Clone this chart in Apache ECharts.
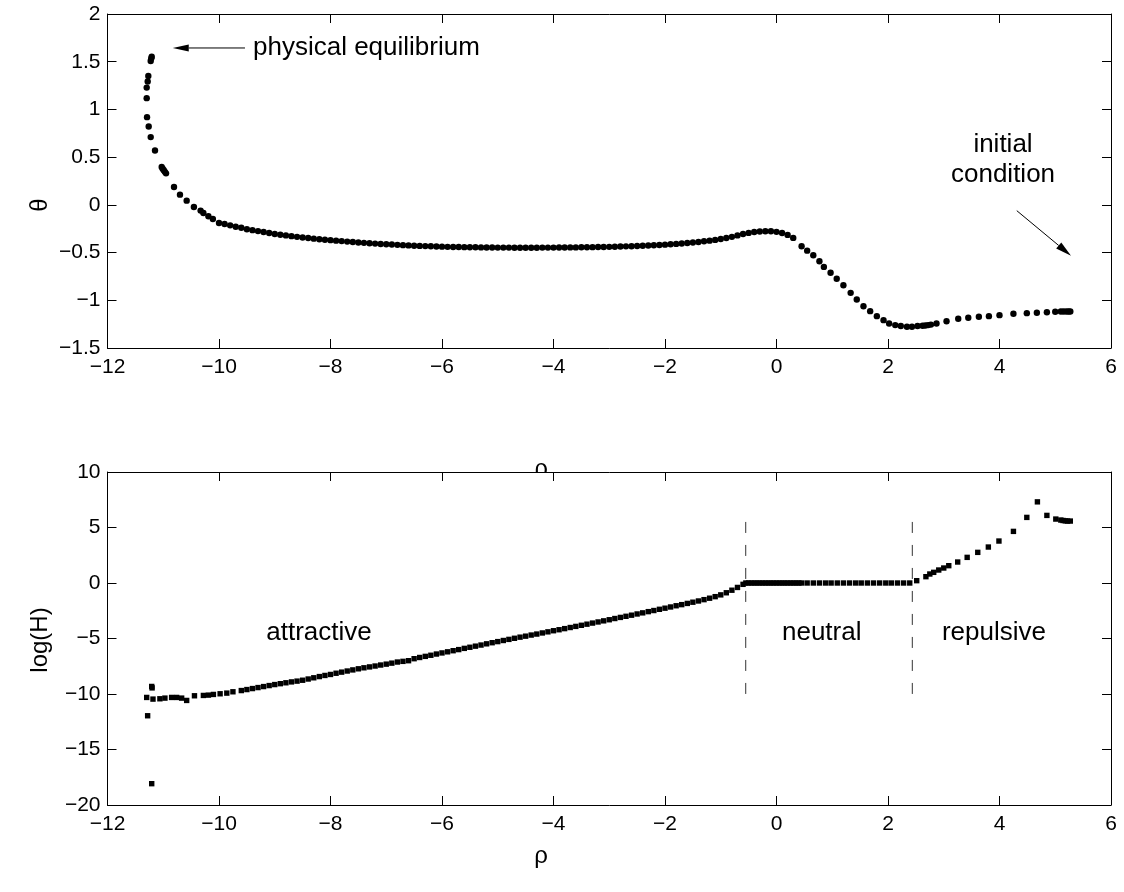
<!DOCTYPE html>
<html><head><meta charset="utf-8">
<script src="https://cdn.jsdelivr.net/npm/echarts@6/dist/echarts.min.js"></script>
<style>html,body{margin:0;padding:0;background:#fff}#c{width:1124px;height:892px}</style>
</head><body><div id="c"></div>
<script>
// ---------- top panel: theta vs rho ----------
const rhoTopHead = [-11.207,-11.215,-11.225,-11.268,-11.279,-11.297,-11.297,-11.291,-11.261,-11.225,-11.148,-11.028,-11.01,-10.99,-10.97,-10.95,-10.807,-10.70,-10.58,-10.45,-10.33,-10.28,-10.19,-10.11];
const thetaTopHead = [1.553,1.535,1.508,1.351,1.292,1.229,1.118,0.919,0.821,0.710,0.570,0.396,0.378,0.362,0.346,0.330,0.187,0.107,0.044,-0.022,-0.06,-0.085,-0.12,-0.148];
const rhoTopMid = [-10.0,-9.9,-9.8,-9.7,-9.6,-9.5,-9.4,-9.3,-9.2,-9.1,-9.0,-8.9,-8.8,-8.7,-8.6,-8.5,-8.4,-8.3,-8.2,-8.1,-8.0,-7.9,-7.8,-7.7,-7.6,-7.5,-7.4,-7.3,-7.2,-7.1,-7.0,-6.9,-6.8,-6.7,-6.6,-6.5,-6.4,-6.3,-6.2,-6.1,-6.0,-5.9,-5.8,-5.7,-5.6,-5.5,-5.4,-5.3,-5.2,-5.1,-5.0,-4.9,-4.8,-4.7,-4.6,-4.5,-4.4,-4.3,-4.2,-4.1,-4.0,-3.9,-3.8,-3.7,-3.6,-3.5,-3.4,-3.3,-3.2,-3.1,-3.0,-2.9,-2.8,-2.7,-2.6,-2.5,-2.4,-2.3,-2.2,-2.1,-2.0,-1.9,-1.8,-1.7,-1.6,-1.5,-1.4,-1.3,-1.2,-1.1,-1.0,-0.9,-0.8,-0.7,-0.6,-0.5,-0.4,-0.3,-0.2,-0.1,0.0,0.1,0.2];
const thetaTopMid = [-0.19,-0.20,-0.215,-0.23,-0.24,-0.255,-0.265,-0.275,-0.285,-0.295,-0.305,-0.313,-0.32,-0.328,-0.335,-0.342,-0.348,-0.354,-0.36,-0.365,-0.37,-0.375,-0.38,-0.385,-0.39,-0.394,-0.398,-0.402,-0.406,-0.41,-0.413,-0.416,-0.419,-0.422,-0.425,-0.428,-0.43,-0.432,-0.434,-0.436,-0.438,-0.44,-0.441,-0.442,-0.443,-0.444,-0.445,-0.446,-0.447,-0.447,-0.448,-0.448,-0.448,-0.449,-0.449,-0.449,-0.449,-0.449,-0.448,-0.448,-0.448,-0.447,-0.447,-0.446,-0.446,-0.445,-0.444,-0.443,-0.442,-0.441,-0.44,-0.439,-0.437,-0.435,-0.433,-0.431,-0.429,-0.426,-0.423,-0.42,-0.417,-0.413,-0.409,-0.405,-0.40,-0.395,-0.389,-0.382,-0.375,-0.367,-0.358,-0.348,-0.335,-0.32,-0.306,-0.294,-0.285,-0.279,-0.276,-0.277,-0.283,-0.295,-0.315];
const rhoTopTail = [0.30,0.45,0.55,0.66,0.77,0.85,0.97,1.08,1.20,1.33,1.44,1.56,1.68,1.80,1.92,2.02,2.13,2.23,2.34,2.43,2.53,2.62,2.67,2.72,2.77,2.87,3.05,3.26,3.44,3.63,3.81,4.00,4.25,4.49,4.67,4.85,5.00,5.10,5.15,5.20,5.24,5.27];
const thetaTopTail = [-0.346,-0.434,-0.48,-0.528,-0.591,-0.650,-0.712,-0.775,-0.842,-0.922,-0.992,-1.062,-1.114,-1.166,-1.208,-1.243,-1.26,-1.27,-1.277,-1.277,-1.27,-1.267,-1.264,-1.26,-1.255,-1.243,-1.219,-1.194,-1.183,-1.173,-1.166,-1.156,-1.141,-1.135,-1.131,-1.125,-1.12,-1.118,-1.118,-1.118,-1.117,-1.117];

// ---------- bottom panel: log(H) vs rho ----------
const rhoBotHead = [-11.297,-11.28,-11.207,-11.20,-11.207,-11.184,-11.06,-10.97,-10.85,-10.76,-10.67,-10.58,-10.44,-10.28,-10.19,-10.10,-9.98,-9.86,-9.75];
const logHBotHead = [-10.31,-11.96,-9.32,-9.45,-18.08,-10.46,-10.43,-10.37,-10.31,-10.31,-10.37,-10.58,-10.16,-10.13,-10.10,-10.04,-9.98,-9.92,-9.80];
const rhoBotAttr = [-9.6,-9.5,-9.4,-9.3,-9.2,-9.1,-9.0,-8.9,-8.8,-8.7,-8.6,-8.5,-8.4,-8.3,-8.2,-8.1,-8.0,-7.9,-7.8,-7.7,-7.6,-7.5,-7.4,-7.3,-7.2,-7.1,-7.0,-6.9,-6.8,-6.7,-6.6,-6.5,-6.4,-6.3,-6.2,-6.1,-6.0,-5.9,-5.8,-5.7,-5.6,-5.5,-5.4,-5.3,-5.2,-5.1,-5.0,-4.9,-4.8,-4.7,-4.6,-4.5,-4.4,-4.3,-4.2,-4.1,-4.0,-3.9,-3.8,-3.7,-3.6,-3.5,-3.4,-3.3,-3.2,-3.1,-3.0,-2.9,-2.8,-2.7,-2.6,-2.5,-2.4,-2.3,-2.2,-2.1,-2.0,-1.9,-1.8,-1.7,-1.6,-1.5,-1.4,-1.3,-1.2,-1.1,-1.0,-0.9,-0.8,-0.7,-0.6];
const logHBotAttr = [-9.69,-9.60,-9.51,-9.42,-9.33,-9.24,-9.15,-9.07,-8.99,-8.91,-8.84,-8.76,-8.65,-8.54,-8.43,-8.33,-8.24,-8.13,-8.03,-7.93,-7.83,-7.73,-7.64,-7.56,-7.48,-7.39,-7.31,-7.22,-7.12,-7.06,-7.00,-6.82,-6.71,-6.61,-6.51,-6.40,-6.30,-6.20,-6.10,-6.00,-5.89,-5.79,-5.69,-5.59,-5.48,-5.38,-5.28,-5.18,-5.08,-4.98,-4.88,-4.79,-4.69,-4.60,-4.50,-4.40,-4.30,-4.21,-4.11,-4.01,-3.91,-3.81,-3.71,-3.61,-3.51,-3.41,-3.31,-3.20,-3.10,-3.00,-2.90,-2.79,-2.69,-2.58,-2.48,-2.37,-2.27,-2.16,-2.05,-1.95,-1.84,-1.73,-1.62,-1.50,-1.37,-1.23,-1.07,-0.88,-0.65,-0.40,-0.12];
const rhoBotNeutral = [-0.55,-0.50,-0.45,-0.40,-0.35,-0.30,-0.25,-0.20,-0.15,-0.10,-0.05,0.0,0.05,0.10,0.15,0.20,0.25,0.30,0.35,0.40,0.45,0.55,0.66,0.77,0.88,0.98,1.09,1.20,1.31,1.42,1.52,1.63,1.74,1.85,1.96,2.06,2.17,2.28,2.39];
const logHBotNeutral = [0,0,0,0,0,0,0,0,0,0,0,0,0,0,0,0,0,0,0,0,0,0,0,0,0,0,0,0,0,0,0,0,0,0,0,0,0,0,0];
const rhoBotRep = [2.515,2.68,2.75,2.82,2.91,3.0,3.09,3.25,3.42,3.61,3.80,3.99,4.25,4.49,4.68,4.85,5.01,5.10,5.14,5.18,5.22,5.27];
const logHBotRep = [0.21,0.57,0.81,0.96,1.17,1.35,1.56,1.89,2.31,2.76,3.24,3.78,4.65,5.91,7.31,6.09,5.76,5.67,5.63,5.60,5.58,5.58];

// region boundaries (dashed lines)
const boundaryRho = [-0.552, 2.436];
const boundaryLogH = [5.5, -10];

// axis ticks
const xTicks = {min: -12, max: 6, interval: 2};
const yTopTicks = {min: -1.5, max: 2, interval: 0.5};
const yBotTicks = {min: -20, max: 10, interval: 5};

// annotations (data coordinates)
const annPhysText = [-9.39, 1.644];
const annPhysArrow = [[-9.534, 1.644], [-10.83, 1.644]];
const annInitText = [[4.063, 0.627], [4.063, 0.313]];
const annInitArrow = [[4.31, -0.061], [5.283, -0.533]];
const annRegions = [['attractive', -8.206, -4.5], ['neutral', 0.811, -4.5], ['repulsive', 3.90, -4.5]];

function zip(a, b) { return a.map((v, i) => [v, b[i]]); }
const topData = zip(rhoTopHead, thetaTopHead).concat(zip(rhoTopMid, thetaTopMid), zip(rhoTopTail, thetaTopTail));
const botData = zip(rhoBotHead, logHBotHead).concat(zip(rhoBotAttr, logHBotAttr), zip(rhoBotNeutral, logHBotNeutral), zip(rhoBotRep, logHBotRep));

const FONT = '"Liberation Sans", Arial, Helvetica, sans-serif';
const fmt = v => String(v).replace('-', '\u2212');

function xAxis(grid, pos, labels, t) {
  return {
    type: 'value', gridIndex: grid, position: pos, min: t.min, max: t.max, interval: t.interval,
    axisLine: {show: true, onZero: false, lineStyle: {color: '#000', width: 1}},
    axisTick: {show: true, inside: true, length: 9, lineStyle: {color: '#000', width: 1}},
    axisLabel: {show: labels, color: '#000', fontSize: 21, fontFamily: FONT, margin: 9, formatter: fmt},
    splitLine: {show: false}
  };
}
function yAxis(grid, pos, labels, t) {
  return {
    type: 'value', gridIndex: grid, position: pos, min: t.min, max: t.max, interval: t.interval,
    axisLine: {show: true, onZero: false, lineStyle: {color: '#000', width: 1}},
    axisTick: {show: true, inside: true, length: 9, lineStyle: {color: '#000', width: 1}},
    axisLabel: {show: labels, color: '#000', fontSize: 21, fontFamily: FONT, margin: 7, formatter: fmt},
    splitLine: {show: false}
  };
}

const chart = echarts.init(document.getElementById('c'), null, {renderer: 'canvas'});
const option = {
  animation: false,
  backgroundColor: '#fff',
  grid: [
    {left: 107.5, top: 14, right: 13, height: 334, containLabel: false},
    {left: 107.5, top: 472, right: 13, height: 333, containLabel: false, show: true, backgroundColor: '#fff', borderWidth: 0}
  ],
  xAxis: [xAxis(0, 'bottom', true, xTicks), xAxis(0, 'top', false, xTicks), xAxis(1, 'bottom', true, xTicks), xAxis(1, 'top', false, xTicks)],
  yAxis: [yAxis(0, 'left', true, yTopTicks), yAxis(0, 'right', false, yTopTicks), yAxis(1, 'left', true, yBotTicks), yAxis(1, 'right', false, yBotTicks)],
  series: [
    {type: 'scatter', xAxisIndex: 0, yAxisIndex: 0, data: topData, symbol: 'circle', symbolSize: 6.4, itemStyle: {color: '#000', opacity: 1}, silent: true, z: 3},
    {type: 'scatter', xAxisIndex: 2, yAxisIndex: 2, data: botData, symbol: 'rect', symbolSize: 5.4, itemStyle: {color: '#000', opacity: 1}, silent: true, z: 3},
    {type: 'line', xAxisIndex: 2, yAxisIndex: 2, data: [[boundaryRho[0], boundaryLogH[0]], [boundaryRho[0], boundaryLogH[1]]], symbol: 'none', lineStyle: {color: '#333', width: 1, type: [11, 12]}, silent: true, z: 2},
    {type: 'line', xAxisIndex: 2, yAxisIndex: 2, data: [[boundaryRho[1], boundaryLogH[0]], [boundaryRho[1], boundaryLogH[1]]], symbol: 'none', lineStyle: {color: '#333', width: 1, type: [11, 12]}, silent: true, z: 2}
  ]
};
chart.setOption(option);

function px(grid, p) { return chart.convertToPixel({gridIndex: grid}, p); }
function txt(s, p, size, align, extra) {
  return Object.assign({
    type: 'text', x: p[0], y: p[1], silent: true,
    style: {text: s, x: 0, y: 0, fill: '#000', fontSize: size, fontFamily: FONT, align: align, textAlign: align, verticalAlign: 'middle', textVerticalAlign: 'middle'}
  }, extra || {});
}
function arrow(p0, p1, len, half) {
  const dx = p1[0] - p0[0], dy = p1[1] - p0[1], L = Math.hypot(dx, dy), ux = dx / L, uy = dy / L;
  const bx = p1[0] - ux * len, by = p1[1] - uy * len;
  return [
    {type: 'line', silent: true, shape: {x1: p0[0], y1: p0[1], x2: bx, y2: by}, style: {stroke: '#000', lineWidth: 1}},
    {type: 'polygon', silent: true, shape: {points: [[p1[0], p1[1]], [bx - uy * half, by + ux * half], [bx + uy * half, by - ux * half]]}, style: {fill: '#000'}}
  ];
}

const g = [];
g.push(txt('physical equilibrium', px(0, annPhysText), 26, 'left'));
g.push(...arrow(px(0, annPhysArrow[0]), px(0, annPhysArrow[1]), 16, 3.5));
g.push(txt('initial', px(0, annInitText[0]), 26, 'center'));
g.push(txt('condition', px(0, annInitText[1]), 26, 'center'));
g.push(...arrow(px(0, annInitArrow[0]), px(0, annInitArrow[1]), 16, 4));
annRegions.forEach(r => g.push(txt(r[0], px(1, [r[1], r[2]]), 26, 'center')));
// axis titles
g.push(txt('\u03b8', [40, 205], 24, 'center', {rotation: Math.PI / 2}));
g.push(txt('log(H)', [40, 640], 24, 'center', {rotation: Math.PI / 2}));
g.push(txt('\u03c1', [541, 856], 24, 'center'));
g.push(txt('\u03c1', [541, 469], 24, 'center', {z: -10}));
chart.setOption({graphic: {elements: g}});
</script>
</body></html>
